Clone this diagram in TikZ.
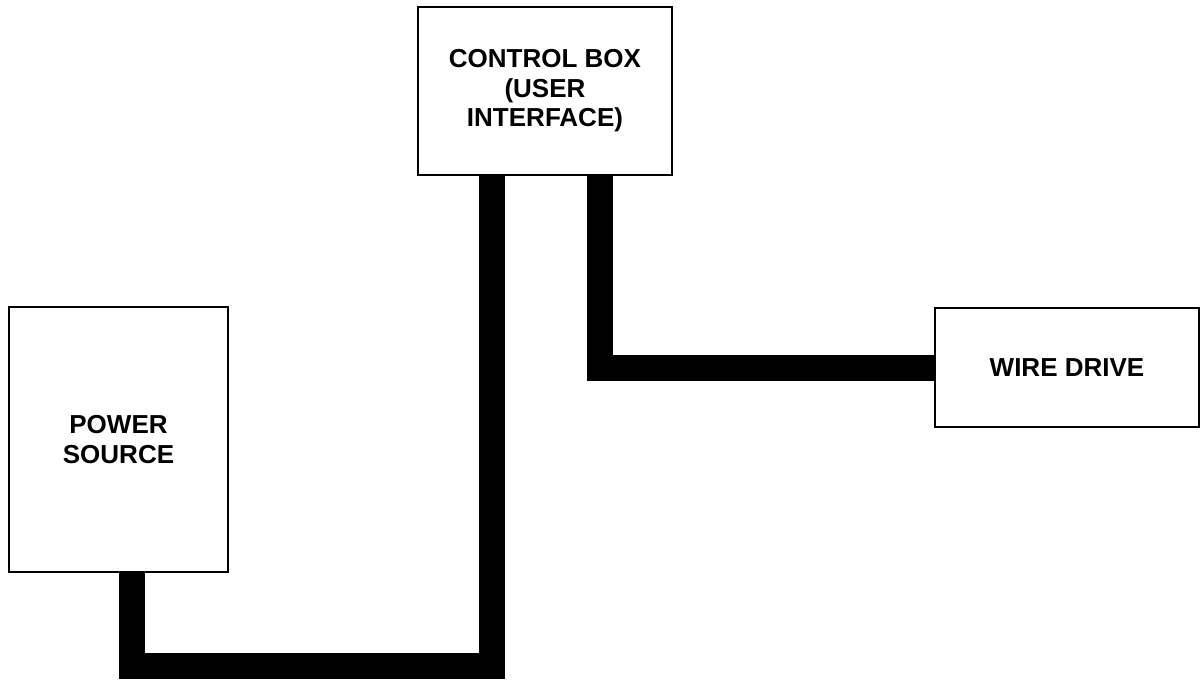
\documentclass[tikz,border=0pt]{standalone}
\usepackage{fontspec}
\setmainfont{Liberation Sans}
\usepackage{tikz}
\usetikzlibrary{positioning,calc}

\tikzset{
	unit/.style={draw, line width=1.6pt, fill=white, inner sep=0pt, align=center,
		font=\bfseries\fontsize{18.5}{21}\selectfont},
	cable/.style={line width=0.65cm, line join=miter, line cap=butt}
}

\begin{document}
\begin{tikzpicture}
		\useasboundingbox (0,0) rectangle (30,-16.975);
		
		\node[unit, minimum width=6.35cm, minimum height=4.2cm] (ctrl) at (13.625,-2.275) {CONTROL BOX\\(USER\\INTERFACE)};
		\node[unit, minimum width=5.475cm, minimum height=6.625cm] (power) at (2.9625,-10.9875) {POWER\\SOURCE};
		\node[unit, minimum width=6.6cm, minimum height=2.975cm] (wire) at (26.675,-9.1875) {WIRE DRIVE};
		
		\coordinate (pbend) at (3.3,-16.65);
		\coordinate (cbend) at (12.3,-16.65);
		\coordinate (wbend) at (15.0,-9.1875);
		
		\draw[cable] (power.south -| pbend)--(pbend)--(cbend)--(ctrl.south -| cbend);
		\draw[cable] (ctrl.south -| wbend)--(wbend)--(wire.west);
	\end{tikzpicture}
\end{document}
